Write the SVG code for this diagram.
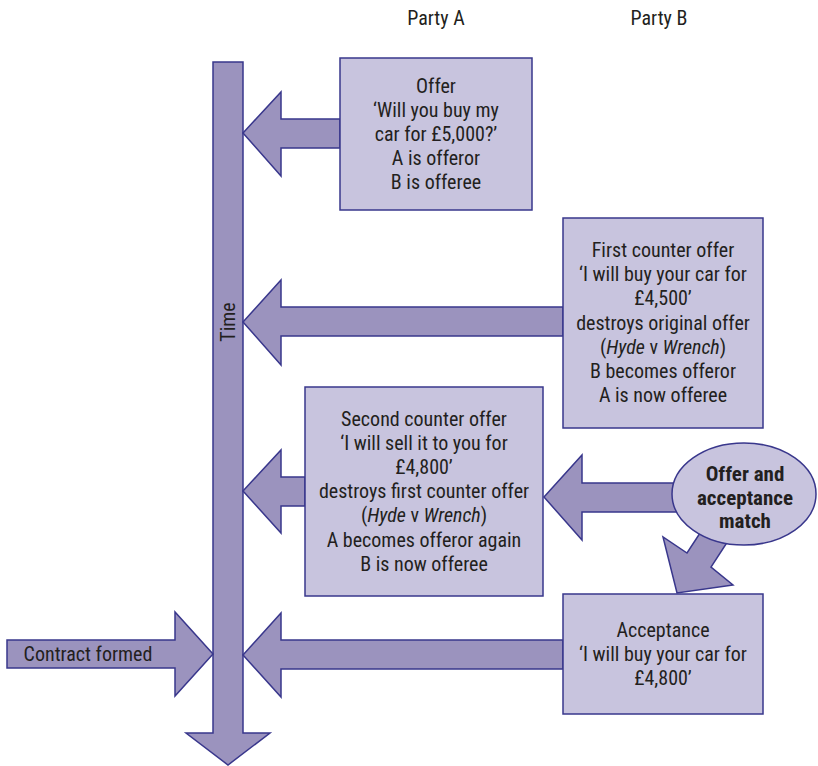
<svg xmlns="http://www.w3.org/2000/svg" width="818" height="766" viewBox="0 0 818 766">
  <style>
    .arrow { fill: #9b93be; stroke: #39378c; stroke-width: 1.5; stroke-linejoin: miter; }
    .box { fill: #c8c4de; stroke: #39378c; stroke-width: 1.5; }
    .t { font-family: "Liberation Sans Narrow", "Roboto Condensed", "DejaVu Sans Condensed", sans-serif; font-size: 20px; fill: #231f20; text-anchor: middle; }
    .b { font-weight: bold; font-size: 21px; }
  </style>
  <rect width="818" height="766" fill="#ffffff"/>

  <!-- party headings -->
  <g id="headings">
    <text class="t" x="436" y="25">Party A</text>
    <text class="t" x="659" y="25">Party B</text>
  </g>

  <!-- time axis and connectors -->
  <g id="connectors">
    <!-- time axis -->
    <polygon class="arrow" points="213,62 243,62 243,733 270,733 228,765 186,733 213,733"/>
    <text class="t" transform="translate(235,322) rotate(-90)" x="0" y="0">Time</text>
    <!-- offer to time -->
    <polygon class="arrow" points="340,119 281,119 281,92 243,133 281,176 281,148 340,148"/>
    <!-- first counter offer to time -->
    <polygon class="arrow" points="563,307 281,307 281,280 243,322 281,365 281,336 563,336"/>
    <!-- second counter offer to time -->
    <polygon class="arrow" points="305,477 281,477 281,450 243,491 281,533 281,506 305,506"/>
    <!-- acceptance to time -->
    <polygon class="arrow" points="563,640 281,640 281,613 243,655 281,697 281,669 563,669"/>
    <!-- contract formed -->
    <polygon class="arrow" points="7,640 175,640 175,612 213,654 175,696 175,668 7,668"/>
    <!-- match to second counter offer -->
    <polygon class="arrow" points="700,483 582,483 582,455 544,497 582,540 582,512 700,512"/>
    <!-- match to acceptance -->
    <polygon class="arrow" points="704,527 687,553 663,537 677,593 733,585 711,567 728,541"/>
  </g>

  <g id="offer">
    <rect class="box" x="340" y="58" width="192" height="152"/>
    <text class="t" x="436" y="93">Offer</text>
    <text class="t" x="436" y="117">‘Will you buy my</text>
    <text class="t" x="436" y="141">car for £5,000?’</text>
    <text class="t" x="436" y="165">A is offeror</text>
    <text class="t" x="436" y="189">B is offeree</text>
  </g>

  <g id="first-counter-offer">
    <rect class="box" x="563" y="218" width="200" height="210"/>
    <text class="t" x="663" y="257">First counter offer</text>
    <text class="t" x="663" y="281">‘I will buy your car for</text>
    <text class="t" x="663" y="305">£4,500’</text>
    <text class="t" x="663" y="330">destroys original offer</text>
    <text class="t" x="663" y="354">(<tspan font-style="italic">Hyde</tspan> v <tspan font-style="italic">Wrench</tspan>)</text>
    <text class="t" x="663" y="378">B becomes offeror</text>
    <text class="t" x="663" y="402">A is now offeree</text>
  </g>

  <g id="second-counter-offer">
    <rect class="box" x="305" y="387" width="238" height="209"/>
    <text class="t" x="424" y="426">Second counter offer</text>
    <text class="t" x="424" y="450">‘I will sell it to you for</text>
    <text class="t" x="424" y="474">£4,800’</text>
    <text class="t" x="424" y="498">destroys first counter offer</text>
    <text class="t" x="424" y="522">(<tspan font-style="italic">Hyde</tspan> v <tspan font-style="italic">Wrench</tspan>)</text>
    <text class="t" x="424" y="547">A becomes offeror again</text>
    <text class="t" x="424" y="571">B is now offeree</text>
  </g>

  <g id="acceptance">
    <rect class="box" x="563" y="594" width="200" height="120"/>
    <text class="t" x="663" y="637">Acceptance</text>
    <text class="t" x="663" y="661">‘I will buy your car for</text>
    <text class="t" x="663" y="685">£4,800’</text>
  </g>

  <g id="match">
    <ellipse class="box" cx="744" cy="494" rx="72" ry="51"/>
    <text class="t b" x="745" y="481">Offer and</text>
    <text class="t b" x="745" y="505">acceptance</text>
    <text class="t b" x="745" y="528">match</text>
  </g>

  <g id="contract-formed">
    <text class="t" x="88" y="661">Contract formed</text>
  </g>
</svg>
